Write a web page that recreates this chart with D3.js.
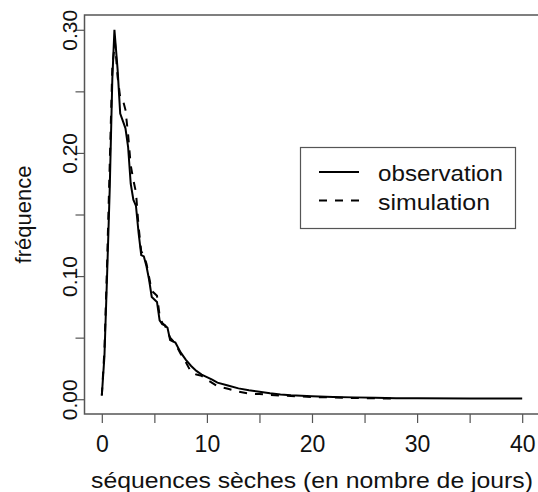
<!DOCTYPE html>
<html>
<head>
<meta charset="utf-8">
<script src="https://cdn.jsdelivr.net/npm/d3@7"></script>
<style>
  body { margin: 0; background: #fff; }
  svg { display: block; font-family: "Liberation Sans", Arial, sans-serif; }
</style>
</head>
<body>
<svg id="chart" width="538" height="492"></svg>
<script>
// observed dry spell frequencies
var obsDays = [0, 0.25, 0.5, 0.75, 1, 1.2, 1.5, 1.75, 2, 2.25, 2.5, 2.75, 3, 3.25, 3.5, 3.75, 4, 4.25, 4.5, 4.75,
    5, 5.25, 5.5, 5.75, 6, 6.25, 6.5, 7, 7.5, 8, 8.5, 9, 9.5, 10, 10.5, 11, 12, 13, 14, 15, 16, 17, 18, 20, 22, 24,
    26, 28, 30, 35, 40];
var obsFreq = [0.003, 0.035, 0.10, 0.17, 0.26, 0.300, 0.268, 0.232, 0.226, 0.220, 0.205, 0.175, 0.162, 0.157, 0.135,
    0.117, 0.116, 0.108, 0.097, 0.083, 0.081, 0.079, 0.064, 0.061, 0.060, 0.058, 0.048, 0.046, 0.038, 0.032, 0.027,
    0.023, 0.020, 0.018, 0.016, 0.0135, 0.0112, 0.0088, 0.0072, 0.006, 0.0048, 0.0038, 0.0032, 0.0024, 0.0019,
    0.0015, 0.0011, 0.0008, 0.0007, 0.0006, 0.0006];

// simulated dry spell frequencies
var simDays = [0, 0.25, 0.5, 0.75, 1, 1.25, 1.5, 1.75, 2, 2.25, 2.5, 2.75, 3, 3.25, 3.5, 3.75, 4, 4.25, 4.5, 4.75,
    5, 5.25, 5.5, 5.75, 6, 6.5, 7, 7.5, 8, 8.5, 9, 9.5, 10, 11, 12, 13, 14, 15, 16, 18, 20, 22, 24, 26, 28];
var simFreq = [0.003, 0.04, 0.11, 0.19, 0.27, 0.29, 0.262, 0.245, 0.243, 0.235, 0.215, 0.19, 0.178, 0.168, 0.140,
    0.120, 0.117, 0.110, 0.099, 0.088, 0.086, 0.084, 0.068, 0.062, 0.060, 0.050, 0.045, 0.037, 0.030, 0.022, 0.020,
    0.019, 0.016, 0.0105, 0.0085, 0.0062, 0.0045, 0.0042, 0.0035, 0.0026, 0.0018, 0.0014, 0.0010, 0.0007, 0.0005];

var xTicks = [0, 5, 10, 15, 20, 25, 30, 35, 40];
var yTicks = [0, 0.05, 0.10, 0.15, 0.20, 0.25, 0.30];
var legendLabels = ['observation', 'simulation'];

var svg = d3.select('#chart');
var box = {left: 84.5, right: 539.5, top: 15, bottom: 414};

var x = d3.scaleLinear().domain([-1.6, 41.6]).range([85, 539]);
var y = d3.scaleLinear().domain([-0.012, 0.312]).range([414, 15]);

// axes, R style: ticks every 5 / 0.05, labels every other one
var xAxis = d3.axisBottom(x)
    .tickValues(xTicks)
    .tickSize(9)
    .tickPadding(13)
    .tickFormat(function (d) { return d % 10 === 0 ? d : ''; });

var gx = svg.append('g')
    .attr('transform', 'translate(0,' + box.bottom + ')')
    .call(xAxis);
gx.select('.domain').remove();
gx.selectAll('line').attr('stroke', '#555').attr('stroke-width', 1.2);
gx.selectAll('text').attr('font-size', 23).attr('fill', '#111');

var yAxis = d3.axisLeft(y)
    .tickValues(yTicks)
    .tickSize(9)
    .tickFormat(function (d) {
        return Math.round(d * 100) % 10 === 0 ? d.toFixed(2) : '';
    });

var gy = svg.append('g')
    .attr('transform', 'translate(' + box.left + ',0)')
    .call(yAxis);
gy.select('.domain').remove();
gy.selectAll('line').attr('stroke', '#555').attr('stroke-width', 1.2);
gy.selectAll('text')
    .attr('font-size', 21)
    .attr('fill', '#111')
    .attr('x', 0)
    .attr('dy', 0)
    .attr('text-anchor', 'middle')
    .attr('transform', 'translate(-8,0) rotate(-90)');

// plot box
svg.append('rect')
    .attr('x', box.left)
    .attr('y', box.top)
    .attr('width', box.right - box.left)
    .attr('height', box.bottom - box.top)
    .attr('fill', 'none')
    .attr('stroke', '#555')
    .attr('stroke-width', 1.5);

// curves
var line = d3.line()
    .x(function (d) { return x(d[0]); })
    .y(function (d) { return y(d[1]); });

var series = [
    {name: legendLabels[0], pts: d3.zip(obsDays, obsFreq), dash: null},
    {name: legendLabels[1], pts: d3.zip(simDays, simFreq), dash: '8,8'}
];

svg.selectAll('.curve')
    .data(series)
    .enter().append('path')
    .attr('class', 'curve')
    .attr('d', function (d) { return line(d.pts); })
    .attr('fill', 'none')
    .attr('stroke', '#000')
    .attr('stroke-width', 2)
    .attr('stroke-dasharray', function (d) { return d.dash; });

// axis titles
svg.append('text')
    .attr('x', (box.left + box.right) / 2)
    .attr('y', 488)
    .attr('text-anchor', 'middle')
    .attr('font-size', 22)
    .attr('textLength', 442)
    .attr('lengthAdjust', 'spacingAndGlyphs')
    .attr('fill', '#111')
    .text('séquences sèches (en nombre de jours)');

svg.append('text')
    .attr('transform', 'translate(31,' + (box.top + box.bottom) / 2 + ') rotate(-90)')
    .attr('text-anchor', 'middle')
    .attr('font-size', 22)
    .attr('fill', '#111')
    .text('fréquence');

// legend
var legend = svg.append('g');
legend.append('rect')
    .attr('x', 300.5)
    .attr('y', 147.5)
    .attr('width', 215)
    .attr('height', 81)
    .attr('fill', '#fff')
    .attr('stroke', '#555')
    .attr('stroke-width', 1.2);

var items = legend.selectAll('.item')
    .data(series)
    .enter().append('g')
    .attr('class', 'item')
    .attr('transform', function (d, i) { return 'translate(0,' + (172 + i * 28.5) + ')'; });

items.append('line')
    .attr('x1', 319)
    .attr('x2', 359)
    .attr('stroke', '#000')
    .attr('stroke-width', 2)
    .attr('stroke-dasharray', function (d) { return d.dash; });

items.append('text')
    .attr('x', 378)
    .attr('y', 9)
    .attr('font-size', 22)
    .attr('textLength', function (d, i) { return i === 0 ? 125 : 112; })
    .attr('lengthAdjust', 'spacingAndGlyphs')
    .attr('fill', '#111')
    .text(function (d) { return d.name; });
</script>
</body>
</html>
